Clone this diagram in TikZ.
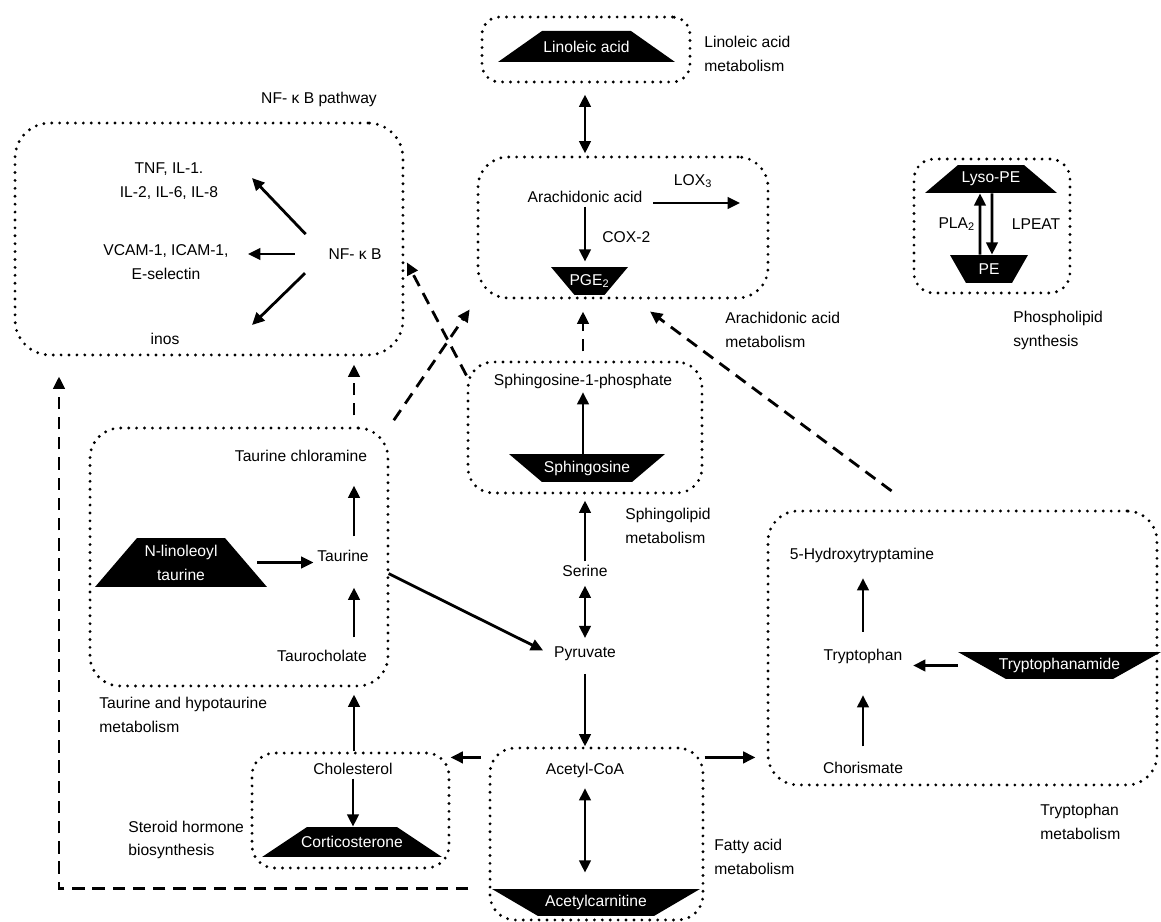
\documentclass[tikz,border=0pt]{standalone}
\usepackage{fontspec}
\setmainfont{Liberation Sans}
\usetikzlibrary{arrows.meta}

\begin{document}
\begin{tikzpicture}[x=0.02cm,y=-0.02cm,
  every node/.style={font=\fontsize{8.9pt}{13.6pt}\selectfont,inner sep=2pt},
  >={Triangle[length=7pt,width=6.5pt]},
  arr/.style={->,line width=1.6pt},
  darr/.style={<->,line width=1.6pt},
  dasharr/.style={->,line width=1.6pt,dash pattern=on 7pt off 4.5pt},
  pathbox/.style={draw,line width=1.8pt,line cap=round,dash pattern=on 0pt off 4.5pt,rounded corners=#1},
  pathbox/.default=0.6cm,
  lbl/.style={align=left,anchor=west,inner xsep=0pt},
  uptrap/.style={text=white,align=center,inner sep=0pt,path picture={\fill ([xshift=#1]path picture bounding box.north west) -- ([xshift=-#1]path picture bounding box.north east) -- (path picture bounding box.south east) -- (path picture bounding box.south west) -- cycle;}},
  downtrap/.style={text=white,align=center,inner sep=0pt,path picture={\fill (path picture bounding box.north west) -- (path picture bounding box.north east) -- ([xshift=-#1]path picture bounding box.south east) -- ([xshift=#1]path picture bounding box.south west) -- cycle;}}]
  \useasboundingbox (0,0) rectangle (1161,922);

  \node[pathbox=0.35cm,minimum width=4.16cm,minimum height=1.3cm] (linbox) at (586,49.5) {};
  \node[pathbox=0.7cm,minimum width=7.76cm,minimum height=4.64cm] (nfbox) at (209,239) {};
  \node[pathbox,minimum width=5.8cm,minimum height=2.82cm] (arabox) at (623,227.5) {};
  \node[pathbox=0.4cm,minimum width=3.12cm,minimum height=2.68cm] (lysobox) at (992,226) {};
  \node[pathbox=0.5cm,minimum width=4.68cm,minimum height=2.62cm] (sphbox) at (585,427.5) {};
  \node[pathbox,minimum width=5.96cm,minimum height=5.16cm] (taubox) at (239,557) {};
  \node[pathbox,minimum width=7.78cm,minimum height=5.48cm] (trpbox) at (962.5,648) {};
  \node[pathbox=0.45cm,minimum width=3.94cm,minimum height=2.3cm] (cholbox) at (350.5,810.5) {};
  \node[pathbox=0.5cm,minimum width=4.26cm,minimum height=3.44cm] (acbox) at (596.5,834) {};

  \node[uptrap=0.88cm,minimum width=3.54cm,minimum height=0.62cm] (lin) at (586.5,46.5) {Linoleic acid};
  \node[lbl] (linlbl) at (704,54) {Linoleic acid\\metabolism};

  \node (aa) at (585,197) {Arachidonic acid};
  \node[downtrap=0.47cm,minimum width=1.54cm,minimum height=0.56cm] (pge) at (589.5,281) {PGE\textsubscript{2}};
  \coordinate (loxend) at (740,203);
  \node[lbl] (aralbl) at (725,329.5) {Arachidonic acid\\metabolism};
  \draw[darr,shorten <=0.22cm,shorten >=0.04cm] (aa |- linbox.south) -- (aa |- arabox.north);
  \draw[arr,shorten >=0.1cm] (aa) -- (aa |- pge.north) node[midway,right=0.25cm] {COX-2};
  \draw[arr,shorten <=0.14cm] (aa.east |- loxend) -- (loxend) node[midway,above=0.2cm] {LOX\textsubscript{3}};

  \node (nfhead) at (319,99) {NF- κ B pathway};
  \node (nfkb) at (355,254) {NF- κ B};
  \node[align=center] (tnf) at (169,181.5) {TNF, IL-1.\\IL-2, IL-6, IL-8};
  \node[align=center] (vcam) at (166,262) {VCAM-1, ICAM-1,\\E-selectin};
  \node (inos) at (165,339) {inos};
  \coordinate (nf1) at (252,178);
  \coordinate (nf2) at (248,254);
  \coordinate (nf3) at (252,325);
  \draw[arr,shorten <=0.55cm] (nfkb.west) -- (nf1);
  \draw[arr,shorten <=0.6cm] (nfkb.west) -- (nf2);
  \draw[arr,shorten <=0.55cm] (nfkb.west) -- (nf3);

  \node[uptrap=0.66cm,minimum width=2.64cm,minimum height=0.56cm] (lyso) at (991,179) {Lyso-PE};
  \node[downtrap=0.32cm,minimum width=1.56cm,minimum height=0.56cm] (pe) at (989,269) {PE};
  \node[lbl] (phoslbl) at (1013,330.5) {Phospholipid\\synthesis};
  \draw[arr] ([xshift=-0.18cm]pe.north) -- ([xshift=-0.22cm]lyso.south) node[midway,left] {PLA\textsubscript{2}};
  \draw[arr] ([xshift=0.02cm]lyso.south) -- ([xshift=0.06cm]pe.north) node[midway,right=0.3cm] {LPEAT};

  \node (s1p) at (583,381) {Sphingosine-1-phosphate};
  \node[downtrap=0.66cm,minimum width=3.12cm,minimum height=0.56cm] (sph) at (587,468) {Sphingosine};
  \node[lbl] (sphlbl) at (625,525.5) {Sphingolipid\\metabolism};
  \draw[arr] (sph.north -| s1p) -- (s1p);

  \node (serine) at (585,571) {Serine};
  \node (pyr) at (585,654) {Pyruvate};
  \draw[arr,shorten >=0.12cm] (serine) -- (serine |- sphbox.south);
  \draw[darr,shorten <=0.1cm,shorten >=0.1cm] (serine) -- (pyr);
  \draw[arr,shorten <=0.18cm] (pyr) -- (pyr |- acbox.north);

  \coordinate (tx) at (354,0);
  \node (chlor) at (301,456) {Taurine chloramine};
  \node (taurine) at (343,556) {Taurine};
  \node (tchol) at (322,656) {Taurocholate};
  \node[uptrap=0.84cm,minimum width=3.44cm,minimum height=0.98cm] (nlin) at (181,562.5) {N-linoleoyl\\taurine};
  \node[lbl] (taulbl) at (99,715) {Taurine and hypotaurine\\metabolism};
  \draw[arr,shorten <=0.2cm,shorten >=0.4cm] (tx |- taurine.north) -- (tx |- chlor.south);
  \draw[arr,shorten <=0.18cm,shorten >=0.44cm] (tx |- tchol.north) -- (tx |- taurine.south);
  \draw[arr] ([xshift=-0.2cm]nlin.east) -- (nlin.east -| taurine.west);
  \draw[arr,shorten <=0.36cm,shorten >=0.16cm] (taurine.south east) -- (pyr.west);

  \node (htr) at (862,555) {5-Hydroxytryptamine};
  \node (trp) at (863,656) {Tryptophan};
  \node (chor) at (863,768) {Chorismate};
  \node[downtrap=0.96cm,minimum width=4.06cm,minimum height=0.54cm] (trpam) at (1059.5,665.5) {Tryptophanamide};
  \node[lbl] (trplbl) at (1040,822) {Tryptophan\\metabolism};
  \draw[arr,shorten <=0.26cm,shorten >=0.24cm] (trp) -- (trp |- htr.south);
  \draw[arr,shorten <=0.24cm,shorten >=0.56cm] (chor) -- (trp);
  \draw[arr,shorten >=0.14cm] (trpam.west) -- (trpam.west -| trp.east);

  \node (chol) at (353,769) {Cholesterol};
  \node[uptrap=0.9cm,minimum width=3.6cm,minimum height=0.6cm] (cort) at (352,842) {Corticosterone};
  \node[lbl] (sterlbl) at (128,840) {Steroid hormone\\biosynthesis};
  \draw[arr] (chol) -- (chol |- cort.north);

  \node (acoa) at (585,770) {Acetyl-CoA};
  \node[downtrap=0.92cm,minimum width=4.16cm,minimum height=0.54cm] (acar) at (596,902.5) {Acetylcarnitine};
  \node[lbl] (falbl) at (714,857) {Fatty acid\\metabolism};
  \draw[darr,shorten <=0.14cm,shorten >=0.32cm] (acoa) -- (acoa |- acar.north);
  \draw[arr,shorten <=0.15cm] ([yshift=-0.22cm]acbox.north west) -- ([yshift=-0.12cm]cholbox.north east);
  \draw[arr,shorten >=0.22cm] ([yshift=-0.22cm]acbox.north east) -- ([yshift=-0.22cm]acbox.north east -| trpbox.west);
  \draw[arr,shorten >=0.14cm] (tx |- cholbox.north) -- (tx |- taubox.south);

  \coordinate (lcol) at (59,0);
  \draw[dasharr,shorten <=0.4cm,shorten >=0.4cm] (acbox.west |- acar.north) -| (lcol |- nfbox.south);
  \draw[dasharr,shorten <=0.22cm,shorten >=0.16cm] (tx |- taubox.north) -- (tx |- nfbox.south);
  \draw[dasharr,shorten <=0.15cm,shorten >=0.24cm] (taubox.north east) -- (arabox.south west);
  \draw[dasharr,shorten >=0.1cm] ([yshift=-0.3cm]sphbox.north west) -- ([yshift=-0.38cm]nfbox.east);
  \draw[dasharr,shorten <=0.18cm,shorten >=0.24cm] (s1p |- sphbox.north) -- (s1p |- arabox.south);
  \draw[dasharr,shorten <=0.62cm,shorten >=0.4cm] ([xshift=3cm]trpbox.north west) -- ([xshift=0.22cm]arabox.south);
\end{tikzpicture}
\end{document}
